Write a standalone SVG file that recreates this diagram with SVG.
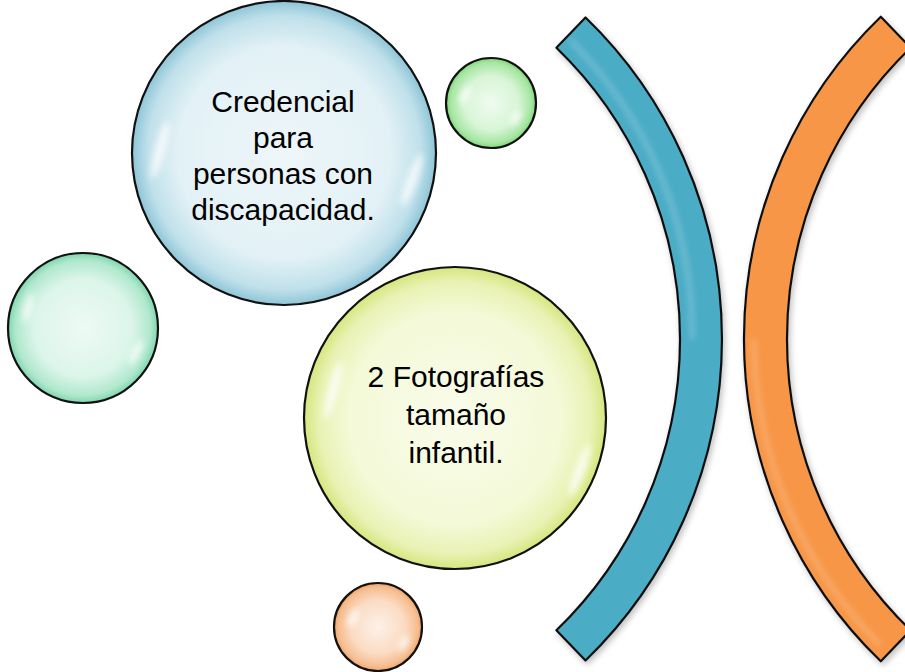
<svg xmlns="http://www.w3.org/2000/svg" width="905" height="672" viewBox="0 0 905 672">
<defs>
<radialGradient id="gBlue" cx="50%" cy="50%" r="50%"><stop offset="0" stop-color="#eef6f9"/><stop offset="0.7" stop-color="#e2f1f6"/><stop offset="0.9" stop-color="#bfe0ea"/><stop offset="1" stop-color="#8ec5d7"/></radialGradient>
<radialGradient id="gYellow" cx="50%" cy="50%" r="50%"><stop offset="0" stop-color="#f9fcea"/><stop offset="0.7" stop-color="#f4f9d8"/><stop offset="0.9" stop-color="#e9f2b4"/><stop offset="1" stop-color="#d6e67e"/></radialGradient>
<radialGradient id="gTeal" cx="50%" cy="50%" r="50%"><stop offset="0" stop-color="#eefaf5"/><stop offset="0.65" stop-color="#dcf5ea"/><stop offset="0.9" stop-color="#b0e8cd"/><stop offset="1" stop-color="#7fd6ae"/></radialGradient>
<radialGradient id="gGreen" cx="50%" cy="50%" r="50%"><stop offset="0" stop-color="#f0fbf0"/><stop offset="0.6" stop-color="#d8f5d6"/><stop offset="0.9" stop-color="#a6e6a2"/><stop offset="1" stop-color="#7ed676"/></radialGradient>
<radialGradient id="gOrange" cx="50%" cy="50%" r="50%"><stop offset="0" stop-color="#fdf1e8"/><stop offset="0.6" stop-color="#fbdcc4"/><stop offset="0.9" stop-color="#f6bd90"/><stop offset="1" stop-color="#f1a468"/></radialGradient>
<filter id="blur" x="-50%" y="-50%" width="200%" height="200%"><feGaussianBlur stdDeviation="3"/></filter>
<filter id="shadow" x="-10%" y="-10%" width="130%" height="130%"><feGaussianBlur in="SourceAlpha" stdDeviation="3"/><feOffset dx="2" dy="3"/><feComponentTransfer><feFuncA type="linear" slope="0.25"/></feComponentTransfer><feMerge><feMergeNode/><feMergeNode in="SourceGraphic"/></feMerge></filter>
</defs>
<style>
.ring{stroke:#111;stroke-width:2.2}
.arc{stroke:#111;stroke-width:2.2;stroke-linejoin:round}
.hl{fill:#fff;opacity:0.75;filter:url(#blur)}
.lbl{font-family:"Liberation Sans",Arial,sans-serif;font-size:30px;fill:#000;text-anchor:middle}
.bev{fill:none;stroke:#fff;stroke-width:3;opacity:0.35;filter:url(#blur)}
</style>
<rect width="905" height="672" fill="#fff"/>
<g id="arc-blue" filter="url(#shadow)">
<path class="arc" fill="#4bacc6" d="M585.5 17.5 A447 447 0 0 1 585.5 660.5 L556.4 630.3 A405 405 0 0 0 556.4 47.7 Z"/>
<path class="bev" d="M570 40 A415 415 0 0 1 692 339"/>
</g>
<g id="arc-orange" filter="url(#shadow)">
<path class="arc" fill="#f79646" d="M880.8 16.7 A448 448 0 0 0 880.8 661.3 L910.6 630.3 A405 405 0 0 1 910.6 47.7 Z"/>
<path class="bev" d="M754 339 A438 438 0 0 0 880 645"/>
</g>
<g id="circle-credencial">
<circle class="ring" cx="284" cy="153" r="152" fill="url(#gBlue)"/>
<ellipse class="hl" cx="160" cy="150" rx="5" ry="30" transform="rotate(15 160 150)"/>
<ellipse class="hl" cx="412" cy="180" rx="5" ry="28" transform="rotate(20 412 180)"/>
<text class="lbl" x="283" y="112">Credencial</text>
<text class="lbl" x="283" y="148">para</text>
<text class="lbl" x="283" y="184">personas con</text>
<text class="lbl" x="283" y="220">discapacidad.</text>
</g>
<g id="circle-fotografias">
<circle class="ring" cx="455" cy="418" r="151" fill="url(#gYellow)"/>
<ellipse class="hl" cx="333" cy="390" rx="5" ry="30" transform="rotate(15 333 390)"/>
<ellipse class="hl" cx="580" cy="470" rx="5" ry="28" transform="rotate(20 580 470)"/>
<text class="lbl" x="456" y="387">2 Fotografías</text>
<text class="lbl" x="456" y="425">tamaño</text>
<text class="lbl" x="456" y="463">infantil.</text>
</g>
<g id="circle-teal">
<circle class="ring" cx="83" cy="328" r="75" fill="url(#gTeal)"/>
<ellipse class="hl" cx="28" cy="308" rx="4" ry="15" transform="rotate(15 28 308)"/>
<ellipse class="hl" cx="136" cy="352" rx="4" ry="14" transform="rotate(25 136 352)"/>
</g>
<g id="circle-green">
<circle class="ring" cx="491" cy="103" r="45" fill="url(#gGreen)"/>
<ellipse class="hl" cx="465" cy="95" rx="4" ry="10" transform="rotate(25 465 95)"/>
<ellipse class="hl" cx="516" cy="118" rx="4" ry="9" transform="rotate(30 516 118)"/>
</g>
<g id="circle-orange">
<circle class="ring" cx="378" cy="627" r="44" fill="url(#gOrange)"/>
<ellipse class="hl" cx="353" cy="618" rx="4" ry="10" transform="rotate(25 353 618)"/>
<ellipse class="hl" cx="404" cy="643" rx="4" ry="9" transform="rotate(30 404 643)"/>
</g>
<g id="connectors"></g>
</svg>
